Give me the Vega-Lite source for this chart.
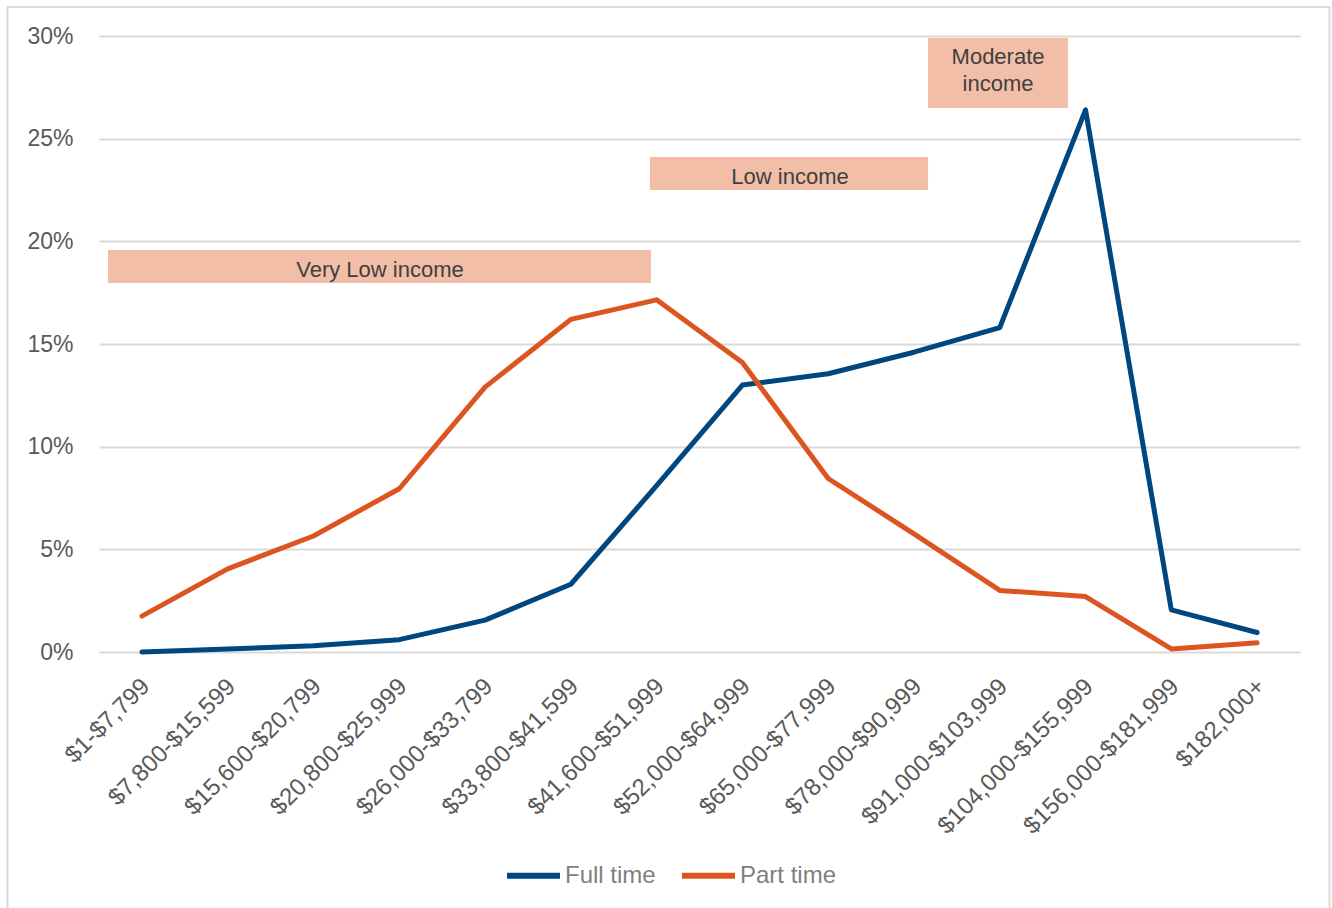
{
  "$schema": "https://vega.github.io/schema/vega-lite/v6.json",
  "width": 1201,
  "height": 616,
  "autosize": {"type": "none"},
  "padding": {"left": 99, "top": 36, "right": 32, "bottom": 256},
  "background": "white",
  "config": {
    "view": {"stroke": null},
    "font": "Liberation Sans"
  },
  "datasets": {
    "series": [
      {"bracket": "$1-$7,799", "series": "Full time", "share": 0.0},
      {"bracket": "$7,800-$15,599", "series": "Full time", "share": 0.15},
      {"bracket": "$15,600-$20,799", "series": "Full time", "share": 0.3},
      {"bracket": "$20,800-$25,999", "series": "Full time", "share": 0.6},
      {"bracket": "$26,000-$33,799", "series": "Full time", "share": 1.55},
      {"bracket": "$33,800-$41,599", "series": "Full time", "share": 3.3},
      {"bracket": "$41,600-$51,999", "series": "Full time", "share": 8.1},
      {"bracket": "$52,000-$64,999", "series": "Full time", "share": 13.0},
      {"bracket": "$65,000-$77,999", "series": "Full time", "share": 13.55},
      {"bracket": "$78,000-$90,999", "series": "Full time", "share": 14.6},
      {"bracket": "$91,000-$103,999", "series": "Full time", "share": 15.8},
      {"bracket": "$104,000-$155,999", "series": "Full time", "share": 26.4},
      {"bracket": "$156,000-$181,999", "series": "Full time", "share": 2.05},
      {"bracket": "$182,000+", "series": "Full time", "share": 0.95},
      {"bracket": "$1-$7,799", "series": "Part time", "share": 1.75},
      {"bracket": "$7,800-$15,599", "series": "Part time", "share": 4.05},
      {"bracket": "$15,600-$20,799", "series": "Part time", "share": 5.65},
      {"bracket": "$20,800-$25,999", "series": "Part time", "share": 7.95},
      {"bracket": "$26,000-$33,799", "series": "Part time", "share": 12.9},
      {"bracket": "$33,800-$41,599", "series": "Part time", "share": 16.2},
      {"bracket": "$41,600-$51,999", "series": "Part time", "share": 17.15},
      {"bracket": "$52,000-$64,999", "series": "Part time", "share": 14.1},
      {"bracket": "$65,000-$77,999", "series": "Part time", "share": 8.45},
      {"bracket": "$78,000-$90,999", "series": "Part time", "share": 5.75},
      {"bracket": "$91,000-$103,999", "series": "Part time", "share": 3.0},
      {"bracket": "$104,000-$155,999", "series": "Part time", "share": 2.7},
      {"bracket": "$156,000-$181,999", "series": "Part time", "share": 0.15},
      {"bracket": "$182,000+", "series": "Part time", "share": 0.45}
    ],
    "frame": [
      {"x0": -1.567, "x1": 13.844, "y0": -15, "y1": 31.41}
    ],
    "boxes": [
      {"label": "Very Low income", "x0": -0.395, "x1": 5.934, "y0": 17.97, "y1": 19.58},
      {"label": "Low income", "x0": 5.922, "x1": 9.164, "y0": 22.5, "y1": 24.11},
      {"label": "Moderate income", "x0": 9.164, "x1": 10.796, "y0": 26.49, "y1": 29.9}
    ],
    "labels": [
      {"text": "Very Low income", "xc": 2.775, "yc": 18.6},
      {"text": "Low income", "xc": 7.555, "yc": 23.15},
      {"text": "Moderate", "xc": 9.98, "yc": 29.0},
      {"text": "income", "xc": 9.98, "yc": 27.68}
    ]
  },
  "layer": [
    {
      "data": {"name": "frame"},
      "mark": {"type": "rect", "fillOpacity": 0, "stroke": "#d9d9d9", "strokeWidth": 2},
      "encoding": {
        "x": {"field": "x0", "type": "quantitative", "scale": {"domain": [-0.5, 13.5], "nice": false, "zero": false}, "axis": null},
        "x2": {"field": "x1"},
        "y": {
          "field": "y0", "type": "quantitative", "scale": {"domain": [0, 30], "nice": false},
          "axis": {
            "title": null, "values": [0, 5, 10, 15, 20, 25, 30], "labelExpr": "datum.value + '%'",
            "labelFontSize": 23, "labelColor": "#595959", "ticks": false, "tickSize": 0,
            "domain": false, "labelPadding": 26, "grid": true, "gridColor": "#d9d9d9", "gridWidth": 2,
            "labelFont": "Liberation Sans"
          }
        },
        "y2": {"field": "y1"}
      }
    },
    {
      "data": {"name": "boxes"},
      "mark": {"type": "rect", "fill": "#F2BEA8"},
      "encoding": {
        "x": {"field": "x0", "type": "quantitative", "scale": {"domain": [-0.5, 13.5], "nice": false, "zero": false}, "axis": null},
        "x2": {"field": "x1"},
        "y": {
          "field": "y0", "type": "quantitative",
          "axis": {
            "title": null, "values": [0, 5, 10, 15, 20, 25, 30], "labelExpr": "datum.value + '%'",
            "labelFontSize": 23, "labelColor": "#595959", "ticks": false, "tickSize": 0,
            "domain": false, "labelPadding": 26, "grid": true, "gridColor": "#d9d9d9", "gridWidth": 2,
            "labelFont": "Liberation Sans"
          }
        },
        "y2": {"field": "y1"}
      }
    },
    {
      "data": {"name": "labels"},
      "mark": {"type": "text", "fontSize": 22, "color": "#404040", "align": "center", "baseline": "middle"},
      "encoding": {
        "x": {"field": "xc", "type": "quantitative", "scale": {"domain": [-0.5, 13.5], "nice": false, "zero": false}, "axis": null},
        "y": {
          "field": "yc", "type": "quantitative",
          "axis": {
            "title": null, "values": [0, 5, 10, 15, 20, 25, 30], "labelExpr": "datum.value + '%'",
            "labelFontSize": 23, "labelColor": "#595959", "ticks": false, "tickSize": 0,
            "domain": false, "labelPadding": 26, "grid": true, "gridColor": "#d9d9d9", "gridWidth": 2,
            "labelFont": "Liberation Sans"
          }
        },
        "text": {"field": "text"}
      }
    },
    {
      "data": {"name": "series"},
      "mark": {"type": "line", "strokeWidth": 5, "strokeCap": "round", "strokeJoin": "round"},
      "encoding": {
        "x": {
          "field": "bracket", "type": "nominal", "sort": null,
          "scale": {"type": "point", "padding": 0.5},
          "axis": {
            "title": null, "labelAngle": -45, "labelFontSize": 24, "labelColor": "#595959",
            "ticks": false, "tickSize": 0, "domain": false, "labelPadding": 22, "labelOffset": -5, "grid": false,
            "labelLimit": 0, "labelFont": "Liberation Sans"
          }
        },
        "y": {
          "field": "share", "type": "quantitative",
          "scale": {"domain": [0, 30], "nice": false},
          "axis": {
            "title": null, "values": [0, 5, 10, 15, 20, 25, 30], "labelExpr": "datum.value + '%'",
            "labelFontSize": 23, "labelColor": "#595959", "ticks": false, "tickSize": 0,
            "domain": false, "labelPadding": 26, "grid": true, "gridColor": "#d9d9d9", "gridWidth": 2,
            "labelFont": "Liberation Sans"
          }
        },
        "color": {
          "field": "series", "type": "nominal",
          "scale": {"domain": ["Full time", "Part time"], "range": ["#00467F", "#DC5520"]},
          "legend": {
            "title": null, "orient": "none", "direction": "horizontal",
            "legendX": 405, "legendY": 810,
            "symbolType": "stroke", "symbolSize": 2809, "symbolStrokeWidth": 6,
            "labelFontSize": 24, "labelColor": "#7f7f7f", "labelOffset": 2, "columnPadding": 14,
            "labelFont": "Liberation Sans"
          }
        }
      }
    }
  ],
  "resolve": {"scale": {"x": "independent"}}
}
